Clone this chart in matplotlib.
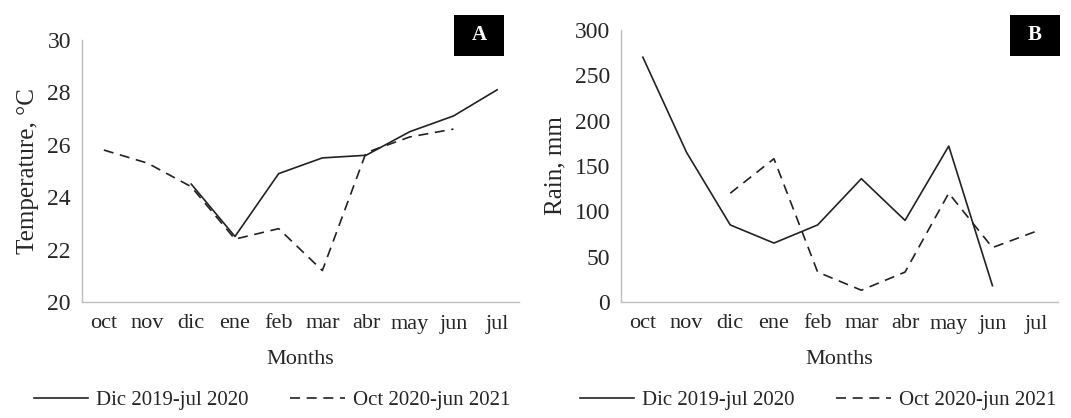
import matplotlib.pyplot as plt
from matplotlib.patches import Rectangle
import numpy as np

months = ['oct', 'nov', 'dic', 'ene', 'feb', 'mar', 'abr', 'may', 'jun', 'jul']
series_names = ['Dic 2019-jul 2020', 'Oct 2020-jun 2021']

# Temperature, °C (None = no data)
temp_2019 = [None, None, 24.5, 22.5, 24.9, 25.5, 25.6, 26.5, 27.1, 28.1]
temp_2020 = [25.8, 25.3, 24.4, 22.4, 22.8, 21.2, 25.7, 26.3, 26.6, None]

# Rain, mm
rain_2019 = [270, 165, 85, 65, 85, 136, 90, 172, 18, None]
rain_2020 = [None, None, 120, 158, 33, 13, 33, 120, 60, 78]

plt.rcParams['font.family'] = ['Liberation Serif', 'DejaVu Serif']

W, H = 1071, 418
fig = plt.figure(figsize=(W / 100, H / 100), dpi=100)
ax_a = fig.add_axes([82 / W, 1 - 302 / H, 437 / W, 262 / H])
ax_b = fig.add_axes([621 / W, 1 - 302 / H, 437 / W, 272 / H])


def to_arr(vals):
    return np.array([np.nan if v is None else v for v in vals], dtype=float)


def style_panel(ax, ylabel, ylim, yticks, letter, box_x, leg_cx):
    x = np.arange(len(months))
    ax.set_xlim(-0.5, len(months) - 0.5)
    ax.set_ylim(*ylim)
    ax.set_yticks(yticks)
    ax.set_xticks(x)
    ax.set_xticklabels(months, fontsize=16)
    ax.tick_params(axis='y', labelsize=17, length=0, pad=8, colors='#262626')
    ax.tick_params(axis='x', length=0, pad=9, colors='#262626')
    for s in ['top', 'right']:
        ax.spines[s].set_visible(False)
    for s in ['left', 'bottom']:
        ax.spines[s].set_color('#bfbfbf')
        ax.spines[s].set_linewidth(1.0)
    ax.set_ylabel(ylabel, fontsize=18, labelpad=6, color='#262626')
    ax.set_xlabel('Months', fontsize=16, labelpad=12, color='#262626')
    ax.legend(loc='center', bbox_to_anchor=(leg_cx / W, 1 - 400 / H),
              bbox_transform=fig.transFigure, ncol=2, frameon=False,
              fontsize=15, handlelength=2.6, columnspacing=2.0,
              handletextpad=0.4, labelcolor='#262626')
    # black letter box
    fig.add_artist(Rectangle((box_x / W, 1 - 56 / H), 50 / W, 41 / H,
                             transform=fig.transFigure, facecolor='black',
                             edgecolor='none'))
    fig.text((box_x + 25) / W, 1 - 35.5 / H, letter, ha='center', va='center',
             color='white', fontweight='bold', fontsize=15)


x = np.arange(len(months))
ax_a.plot(x, to_arr(temp_2019), color='#222222', lw=1.2, ls='-', label=series_names[0])
ax_a.plot(x, to_arr(temp_2020), color='#222222', lw=1.2, ls=(0, (6, 4)), label=series_names[1])
style_panel(ax_a, 'Temperature, °C', (20, 30), [20, 22, 24, 26, 28, 30], 'A', 454, 272)

ax_b.plot(x, to_arr(rain_2019), color='#222222', lw=1.2, ls='-', label=series_names[0])
ax_b.plot(x, to_arr(rain_2020), color='#222222', lw=1.2, ls=(0, (6, 4)), label=series_names[1])
style_panel(ax_b, 'Rain, mm', (0, 300), [0, 50, 100, 150, 200, 250, 300], 'B', 1010, 818)

fig.savefig('out.png', dpi=100)
